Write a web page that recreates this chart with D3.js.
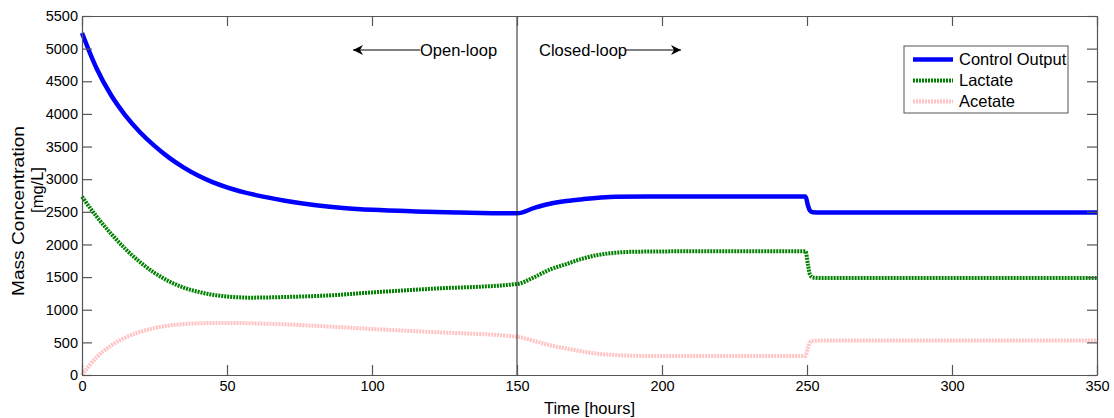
<!DOCTYPE html>
<html>
<head>
<meta charset="utf-8">
<script src="https://cdn.jsdelivr.net/npm/d3@7"></script>
<style>
  body { margin: 0; background: #fff; }
  text { font-family: "Liberation Sans", Arial, sans-serif; }
</style>
</head>
<body>
<div id="chart"></div>
<script>
// time points (hours) and readings for each series
const controlT = [0, 5, 10, 15, 20, 25, 30, 35, 40, 45, 50, 60, 70, 80, 90, 100, 115, 130, 150,
  156, 161, 167, 173, 179, 184, 195, 210, 249.5, 250.3, 251, 252, 255, 350];
const controlV = [5240, 4700, 4290, 3975, 3720, 3510, 3330, 3180, 3055, 2955, 2875, 2755, 2670, 2605, 2560, 2530, 2505, 2490, 2477,
  2560, 2620, 2665, 2695, 2718, 2730, 2736, 2736, 2736, 2600, 2520, 2495, 2488, 2488];

const lactateT = [0, 5, 10, 15, 20, 25, 30, 35, 40, 45, 50, 58, 70, 86, 100, 120, 150,
  156, 161, 167, 173, 178, 182, 190, 210, 249.5, 250.3, 251, 252, 255, 350];
const lactateV = [2732, 2430, 2165, 1930, 1730, 1565, 1435, 1340, 1275, 1230, 1203, 1185, 1195, 1221, 1265, 1320, 1394,
  1500, 1609, 1700, 1788, 1840, 1864, 1888, 1895, 1895, 1700, 1540, 1495, 1485, 1485];

const acetateT = [0, 5, 10, 15, 20, 25, 30, 35, 40, 50, 60, 70, 86, 100, 120, 150,
  156, 161, 167, 173, 178, 184, 195, 210, 249.5, 250.3, 251, 252, 255, 350];
const acetateV = [0, 270, 450, 575, 660, 720, 758, 780, 792, 798, 790, 776, 740, 705, 660, 587,
  520, 460, 405, 357, 325, 306, 292, 290, 290, 420, 500, 522, 528, 528];

const xTicks = [0, 50, 100, 150, 200, 250, 300, 350];
const yTicks = [0, 500, 1000, 1500, 2000, 2500, 3000, 3500, 4000, 4500, 5000, 5500];

const seriesNames = ["Control Output", "Lactate", "Acetate"];

const width = 1114, height = 418;
const margin = {top: 16, left: 82, right: 17, bottom: 43};
const innerW = width - margin.left - margin.right;
const innerH = height - margin.top - margin.bottom;

const styles = [
  {stroke: "#0000ff", width: 4.5, dash: null, opacity: 1},
  {stroke: "#008000", width: 4, dash: "2,1", opacity: 1},
  {stroke: "#ff9999", width: 4, dash: "2,1", opacity: 0.6}
];

const svg = d3.select("#chart").append("svg")
  .attr("width", width)
  .attr("height", height);

const x = d3.scaleLinear().domain([0, 350]).range([margin.left, margin.left + innerW]);
const y = d3.scaleLinear().domain([0, 5500]).range([margin.top + innerH, margin.top]);

const axisColor = "#555";

// series lines
const line = d3.line()
  .x(d => x(d[0]))
  .y(d => y(d[1]))
  .curve(d3.curveMonotoneX);

const series = [
  d3.zip(controlT, controlV),
  d3.zip(lactateT, lactateV),
  d3.zip(acetateT, acetateV)
];

// draw acetate first, control last
[2, 1, 0].forEach(i => {
  svg.append("path")
    .datum(series[i])
    .attr("fill", "none")
    .attr("stroke", styles[i].stroke)
    .attr("stroke-width", styles[i].width)
    .attr("stroke-dasharray", styles[i].dash)
    .attr("stroke-opacity", styles[i].opacity)
    .attr("d", line);
});

// open/closed loop divider
svg.append("line")
  .attr("x1", x(150)).attr("x2", x(150))
  .attr("y1", y(5500)).attr("y2", y(0))
  .attr("stroke", "#222").attr("stroke-width", 1);

// axes, ticks inside, mirrored on the top and right
const tick = 10;
const fmt = d3.format("d");
svg.append("g")
  .attr("transform", `translate(0,${y(0)})`)
  .call(d3.axisBottom(x).tickValues(xTicks).tickFormat(fmt).tickSizeInner(-tick).tickSizeOuter(0).tickPadding(6))
  .call(g => g.selectAll("text").attr("font-size", 14.5).attr("fill", "#000"));
svg.append("g")
  .attr("transform", `translate(0,${y(5500)})`)
  .call(d3.axisTop(x).tickValues(xTicks).tickSizeInner(-tick).tickSizeOuter(0).tickFormat(""));
svg.append("g")
  .attr("transform", `translate(${x(0)},0)`)
  .call(d3.axisLeft(y).tickValues(yTicks).tickFormat(fmt).tickSizeInner(-tick).tickSizeOuter(0).tickPadding(4))
  .call(g => g.selectAll("text").attr("font-size", 14.5).attr("fill", "#000"));
svg.append("g")
  .attr("transform", `translate(${x(350)},0)`)
  .call(d3.axisRight(y).tickValues(yTicks).tickSizeInner(-tick).tickSizeOuter(0).tickFormat(""));

svg.selectAll(".domain, .tick line").attr("stroke", axisColor).attr("stroke-width", 1.2);

// axis titles
svg.append("text")
  .attr("x", x(175)).attr("y", 414)
  .attr("text-anchor", "middle").attr("font-size", 16.5)
  .text("Time [hours]");

svg.append("text")
  .attr("transform", "translate(24,211) rotate(-90)")
  .attr("text-anchor", "middle").attr("font-size", 16.5)
  .attr("textLength", 170).attr("lengthAdjust", "spacingAndGlyphs")
  .text("Mass Concentration");
svg.append("text")
  .attr("transform", "translate(43,190) rotate(-90)")
  .attr("text-anchor", "middle").attr("font-size", 16.5)
  .text("[mg/L]");

// annotations
svg.append("defs").append("marker")
  .attr("id", "arrow")
  .attr("viewBox", "0 0 10 10")
  .attr("refX", 10).attr("refY", 5)
  .attr("markerWidth", 11).attr("markerHeight", 10)
  .attr("markerUnits", "userSpaceOnUse")
  .attr("orient", "auto")
  .append("path")
  .attr("d", "M0,0 L10,5 L0,10 L3,5 Z")
  .attr("fill", "#000");

svg.append("line")
  .attr("x1", 420).attr("y1", 50).attr("x2", 353).attr("y2", 50)
  .attr("stroke", "#000").attr("stroke-width", 1)
  .attr("marker-end", "url(#arrow)");
svg.append("text")
  .attr("x", 420).attr("y", 55.5).attr("font-size", 16.5)
  .text("Open-loop");

svg.append("text")
  .attr("x", 539).attr("y", 55.5).attr("font-size", 16.5)
  .text("Closed-loop");
svg.append("line")
  .attr("x1", 626).attr("y1", 50).attr("x2", 681).attr("y2", 50)
  .attr("stroke", "#000").attr("stroke-width", 1)
  .attr("marker-end", "url(#arrow)");

// legend
const legend = svg.append("g").attr("transform", "translate(904,46)");
legend.append("rect")
  .attr("width", 164).attr("height", 67)
  .attr("fill", "#fff").attr("stroke", "#555").attr("stroke-width", 1);
seriesNames.forEach((name, i) => {
  const row = legend.append("g").attr("transform", `translate(0,${13.5 + i * 21})`);
  row.append("line")
    .attr("x1", 9).attr("x2", 49)
    .attr("stroke", styles[i].stroke)
    .attr("stroke-width", styles[i].width)
    .attr("stroke-dasharray", styles[i].dash)
    .attr("stroke-opacity", styles[i].opacity);
  row.append("text")
    .attr("x", 55).attr("y", 5.5).attr("font-size", 16.5)
    .text(name);
});
</script>
</body>
</html>
